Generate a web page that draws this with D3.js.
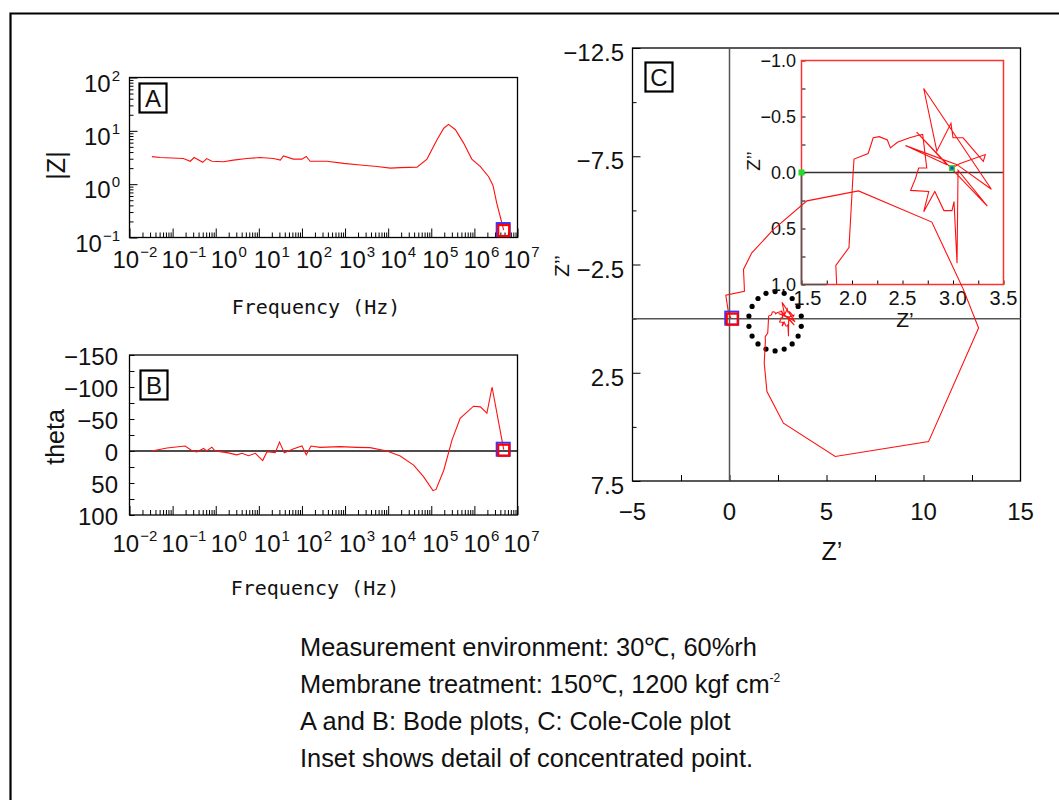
<!DOCTYPE html>
<html><head><meta charset="utf-8">
<script src="https://cdn.jsdelivr.net/npm/d3@7/dist/d3.min.js"></script>
<style>html,body{margin:0;padding:0;background:#fff;}svg{display:block;}</style>
</head><body>
<svg id="chart" width="1059" height="800"></svg>
<script>
// ---------------- data ----------------
const freqA = [0.0331,0.0513,0.178,0.257,0.316,0.501,0.617,0.813,1.51,2.57,5.25,10.7,21.9,31.6,37.2,63.1,100,126,155,380,933,2239,5495,11220,19055,46774,79433,134896,194984,251189,363078,562341,870964,1380384,2137962,2691535,3311311,3981072,4786301];
const magA  = [3.28,3.16,3.02,2.69,3.16,2.57,3.02,2.69,2.63,2.82,3.02,3.16,3.02,2.82,3.39,2.95,2.95,3.31,2.69,2.69,2.45,2.29,2.14,2.0,2.04,2.09,2.95,6.76,11.2,13.2,10.5,5.89,2.95,2.14,1.38,0.955,0.437,0.245,0.138];
const freqB = [0.0331,0.0741,0.195,0.282,0.363,0.525,0.617,0.813,0.977,1.82,3.09,4.07,5.75,8.32,12.3,15.5,24.0,30.2,38.9,64.6,100,126,162,263,776,1862,3802,9333,19055,38905,66069,109648,128825,194984,301995,467735,954993,1380384,1949845,2570396,4786301];
const thetaB = [0,-4.7,-7.8,-0.5,1.5,-4,0,-6,0,2.6,6,3.6,7.3,3.6,15,1,2.6,-14,2.6,-3.6,-7.8,6,-7.8,-5.7,-6.8,-5.7,-5.2,0,7.8,22,40,62,60,30,-17,-51,-70,-69,-59,-100,-2];
const coleRe = [2.99,3.07,3.32,3.30,3.10,3.00,2.98,2.84,2.71,3.38,3.04,2.53,2.94,2.64,3.34,3.05,3.04,3.01,2.99,2.91,2.82,2.71,2.76,2.58,2.63,2.66,2.74,2.70,2.65,2.57,2.45,2.38,2.35,2.27,2.21,2.16,2.02,2.01,1.99,1.97,1.84,1.85,1.79,1.93,2.78,5.45,10.26,12.84,12.06,10.43,6.65,3.99,2.27,1.15,0.72,0.76,0.77,-0.19,-0.05,0.09];
const coleIm = [-0.04,-0.08,-0.16,-0.10,-0.31,-0.31,-0.44,-0.19,-0.75,0.15,-0.07,-0.24,-0.07,-0.36,0.30,-0.02,0.81,0.26,0.34,0.34,0.17,0.35,0.17,0.16,0.05,-0.04,-0.04,-0.34,-0.33,-0.31,-0.27,-0.22,-0.29,-0.32,-0.31,-0.17,-0.12,0.02,0.35,0.67,0.83,1.04,2.05,3.37,4.83,6.37,5.68,0.43,-1.34,-4.46,-5.9,-5.44,-4.12,-3.04,-2.27,-1.53,-1.26,-1.08,-0.26,0.0];
const insetMarkersRe = [1.5, 2.99];
const insetMarkersIm = [0.0, -0.04];
const freqExponents = [-2,-1,0,1,2,3,4,5,6,7];
const magExponents = [-1,0,1,2];
const thetaTickLabels = [-150,-100,-50,0,50,100];
const coleXTickLabels = [-5,0,5,10,15];
const coleYTickLabels = [-12.5,-7.5,-2.5,2.5,7.5];
const insetXTickLabels = [1.5,2.0,2.5,3.0,3.5];
const insetYTickLabels = [-1.0,-0.5,0.0,0.5,1.0];
const panelLetters = ["A","B","C"];
const circleCenter = [2.35,0.12];
const circleRadius = 1.37;
const circleDotCount = 18;
const captionLines = ["Measurement environment: 30\u2103, 60%rh","Membrane treatment: 150\u2103, 1200 kgf cm","A and B: Bode plots, C: Cole-Cole plot","Inset shows detail of concentrated point."];
const captionSup = ["", "-2", "", ""];

// layout: horizontal shift of each frequency label's start relative to its tick (px)
const freqLabelShift = [-17,-11,-5,-5,-6,-6,-8,-9,-11,-14];
const insetXLabelShift = [6,1,0,0,0];

// ---------------- setup ----------------
const svg = d3.select("#chart");
const SANS = "'Liberation Sans', Arial, sans-serif";
const NARROW = "'Liberation Sans Narrow', 'Arial Narrow', 'Liberation Sans', sans-serif";
const MONO = "'DejaVu Sans Mono', monospace";
const RED = "#ff1010";
const mfmt = v => String(v).replace("-", "\u2212");
const fix1 = v => mfmt(v.toFixed(1));

svg.append("path").attr("d","M10.5,800V13.5H1059").attr("fill","none").attr("stroke","#000").attr("stroke-width",2.2);

const xA = d3.scaleLog().domain([1e-2,1e7]).range([129.5,517.5]);
const yA = d3.scaleLog().domain([1e-1,1e2]).range([237.5,77.5]);
const xB = d3.scaleLog().domain([1e-2,1e7]).range([129.5,517.5]);
const yB = d3.scaleLinear().domain([-150,100]).range([355,515]);
const xC = d3.scaleLinear().domain([-5,15]).range([632.5,1020.5]);
const yC = d3.scaleLinear().domain([-12.5,7.5]).range([48,481]);
const xI = d3.scaleLinear().domain([1.5,3.5]).range([801.5,1003.5]);
const yI = d3.scaleLinear().domain([-1,1]).range([60.5,284.5]);

function minorLog(lo, hi){ const t=[]; for(let e=lo;e<hi;e++) for(let m=2;m<10;m++) t.push(m*Math.pow(10,e)); return t; }
function ticks(axisFn, scale, values, size, tx, ty, color){
  const g = svg.append("g").attr("transform",`translate(${tx},${ty})`)
    .call(axisFn(scale).tickValues(values).tickSize(size).tickFormat(""));
  g.select(".domain").remove();
  g.selectAll("line").attr("stroke", color||"#000").attr("stroke-width",1);
  return g;
}
function frame(x0,y0,x1,y1,color,w){
  svg.append("rect").attr("x",x0).attr("y",y0).attr("width",x1-x0).attr("height",y1-y0)
    .attr("fill","none").attr("stroke",color||"#000").attr("stroke-width",w||1.3);
}
function powLabel(x,y,exp,anchor){
  const t = svg.append("text").attr("x",x).attr("y",y).attr("text-anchor",anchor)
    .attr("font-family",NARROW).attr("font-size",24).attr("fill","#111").text("10");
  t.append("tspan").attr("dy",-11).attr("dx",1).attr("font-size",15).text(mfmt(exp));
}
function numText(x,y,s,anchor,size){
  svg.append("text").attr("x",x).attr("y",y).attr("text-anchor",anchor)
    .attr("font-family",NARROW).attr("font-size",size||24).attr("fill","#111").text(s);
}
function letterBox(x,y,L){
  svg.append("rect").attr("x",x).attr("y",y).attr("width",27).attr("height",29)
    .attr("fill","#fff").attr("stroke","#000").attr("stroke-width",2.2);
  svg.append("text").attr("x",x+13.5).attr("y",y+23).attr("text-anchor","middle")
    .attr("font-family",SANS).attr("font-size",24).attr("fill","#111").text(L);
}
function endMarker(cx,cy){
  svg.append("rect").attr("x",cx-7).attr("y",cy-7).attr("width",13).attr("height",13)
    .attr("fill","none").attr("stroke","#3535ff").attr("stroke-width",2);
  svg.append("rect").attr("x",cx-5.5).attr("y",cy-5).attr("width",11).attr("height",11)
    .attr("fill","none").attr("stroke","#ff0000").attr("stroke-width",2.2);
}
const decades = freqExponents.map(e=>Math.pow(10,e));

// ---------------- Panel A ----------------
frame(129.5,77.5,517.5,237.5);
ticks(d3.axisBottom, xA, minorLog(-2,7), -5, 0, 237.5);
ticks(d3.axisBottom, xA, decades, -9, 0, 237.5);
ticks(d3.axisLeft, yA, minorLog(-1,2), -4, 129.5, 0);
ticks(d3.axisLeft, yA, magExponents.map(e=>Math.pow(10,e)), -8, 129.5, 0);
svg.append("path").datum(d3.zip(freqA,magA)).attr("fill","none").attr("stroke",RED).attr("stroke-width",1.1)
  .attr("d", d3.line().x(d=>xA(d[0])).y(d=>yA(d[1])));
endMarker(xA(freqA[freqA.length-1]), yA(magA[magA.length-1]));
freqExponents.forEach((e,i)=>powLabel(xA(Math.pow(10,e))+freqLabelShift[i], 268, e, "start"));
magExponents.forEach(e=>powLabel(120, yA(Math.pow(10,e))+14, e, "end"));
letterBox(139.5,83.5,panelLetters[0]);
svg.append("text").attr("transform","translate(65,165.5) rotate(-90)").attr("text-anchor","middle")
  .attr("font-family",SANS).attr("font-size",25).attr("fill","#111").text("|Z|");
svg.append("text").attr("x",316).attr("y",314).attr("text-anchor","middle")
  .attr("font-family",MONO).attr("font-size",20).attr("fill","#111").text("Frequency (Hz)");

// ---------------- Panel B ----------------
frame(129.5,355,517.5,515);
ticks(d3.axisBottom, xB, minorLog(-2,7), -5, 0, 515);
ticks(d3.axisBottom, xB, decades, -9, 0, 515);
ticks(d3.axisLeft, yB, d3.range(-150,101,25), -5, 129.5, 0);
svg.append("line").attr("x1",129.5).attr("x2",517.5).attr("y1",yB(0)).attr("y2",yB(0)).attr("stroke","#111").attr("stroke-width",1.4);
svg.append("path").datum(d3.zip(freqB,thetaB)).attr("fill","none").attr("stroke",RED).attr("stroke-width",1.1)
  .attr("d", d3.line().x(d=>xB(d[0])).y(d=>yB(d[1])));
endMarker(xB(freqB[freqB.length-1]), yB(thetaB[thetaB.length-1]));
freqExponents.forEach((e,i)=>powLabel(xB(Math.pow(10,e))+freqLabelShift[i], 552, e, "start"));
thetaTickLabels.forEach(v=>numText(118, yB(v)+10, mfmt(v), "end"));
letterBox(140.5,370.5,panelLetters[1]);
svg.append("text").attr("transform","translate(64,437) rotate(-90)").attr("text-anchor","middle")
  .attr("font-family",SANS).attr("font-size",25).attr("fill","#111").text("theta");
svg.append("text").attr("x",315).attr("y",595).attr("text-anchor","middle")
  .attr("font-family",MONO).attr("font-size",20).attr("fill","#111").text("Frequency (Hz)");

// ---------------- Panel C ----------------
frame(632.5,48,1020.5,481);
ticks(d3.axisBottom, xC, d3.range(-2.5,15,2.5), -6, 0, 481);
ticks(d3.axisLeft, yC, [-10,-5,0,5], -4, 632.5, 0);
ticks(d3.axisLeft, yC, coleYTickLabels, -8, 632.5, 0);
svg.append("line").attr("x1",xC(0)).attr("x2",xC(0)).attr("y1",48).attr("y2",481).attr("stroke","#555").attr("stroke-width",1.5);
svg.append("line").attr("x1",632.5).attr("x2",1020.5).attr("y1",yC(0)).attr("y2",yC(0)).attr("stroke","#555").attr("stroke-width",1.5);
coleXTickLabels.forEach(v=>numText(xC(v), 520, mfmt(v), "middle"));
coleYTickLabels.forEach(v=>numText(624, yC(v)+13, fix1(v), "end"));
letterBox(645.5,62.5,panelLetters[2]);
svg.append("text").attr("x",832).attr("y",560).attr("text-anchor","middle")
  .attr("font-family",SANS).attr("font-size",25).attr("fill","#111").text("Z\u2019");
svg.append("text").attr("transform","translate(569,266) rotate(-90)").attr("text-anchor","middle")
  .attr("font-family",SANS).attr("font-size",21).attr("fill","#111").text("Z\u2019\u2019");

// dotted circle annotation
const dots = d3.range(circleDotCount).map(i=>{const a=Math.PI/2 + i*2*Math.PI/circleDotCount; return [circleCenter[0]+circleRadius*Math.cos(a), circleCenter[1]-circleRadius*Math.sin(a)];});
svg.append("g").selectAll("circle").data(dots).join("circle")
  .attr("cx",d=>xC(d[0])).attr("cy",d=>yC(d[1])).attr("r",2.6).attr("fill","#000");

// ---------------- Inset ----------------
svg.append("defs").append("clipPath").attr("id","insetClip").append("rect")
  .attr("x",801.5).attr("y",60.5).attr("width",202).attr("height",224);
ticks(d3.axisBottom, xI, d3.range(1.5,3.51,0.25), -4, 0, 284.5);
ticks(d3.axisLeft, yI, d3.range(-1,1.01,0.25), -4, 801.5, 0);
svg.append("line").attr("x1",801.5).attr("x2",1003.5).attr("y1",yI(0)).attr("y2",yI(0)).attr("stroke","#333").attr("stroke-width",1.5);
svg.append("path").datum(d3.zip(coleRe,coleIm)).attr("clip-path","url(#insetClip)").attr("fill","none")
  .attr("stroke",RED).attr("stroke-width",1.1).attr("d", d3.line().x(d=>xI(d[0])).y(d=>yI(d[1])));
frame(801.5,60.5,1003.5,284.5,"#ff3030",1.5);
svg.append("line").attr("x1",801.5).attr("x2",801.5).attr("y1",yI(0)).attr("y2",284.5).attr("stroke","#555").attr("stroke-width",1.6);
svg.append("line").attr("x1",801.5).attr("x2",xI(1.75)).attr("y1",284.5).attr("y2",284.5).attr("stroke","#555").attr("stroke-width",1.6);
d3.zip(insetMarkersRe,insetMarkersIm).forEach((d,i)=>{
  svg.append("rect").attr("x",xI(d[0])-3).attr("y",yI(d[1])-3).attr("width",6).attr("height",6).attr("fill","#22dd22");
  if(i>0) svg.append("rect").attr("x",xI(d[0])-1.5).attr("y",yI(d[1])-1.5).attr("width",3).attr("height",3).attr("fill","#2233ff");
});
insetXTickLabels.forEach((v,i)=>numText(xI(v)+insetXLabelShift[i], 305, fix1(v), "middle", 20));
insetYTickLabels.forEach(v=>numText(796, yI(v)+6, fix1(v), "end", 18));
svg.append("text").attr("x",905).attr("y",326.5).attr("text-anchor","middle")
  .attr("font-family",SANS).attr("font-size",21).attr("fill","#111").text("Z\u2019");
svg.append("text").attr("transform","translate(760,161) rotate(-90)").attr("text-anchor","middle")
  .attr("font-family",SANS).attr("font-size",19).attr("fill","#111").text("Z\u2019\u2019");

// main Cole-Cole trace (drawn on top)
svg.append("path").datum(d3.zip(coleRe,coleIm)).attr("fill","none").attr("stroke",RED).attr("stroke-width",1.1)
  .attr("d", d3.line().x(d=>xC(d[0])).y(d=>yC(d[1])));
endMarker(xC(coleRe[coleRe.length-1])+1, yC(coleIm[coleIm.length-1]));

// ---------------- caption ----------------
captionLines.forEach((s,i)=>{
  const t = svg.append("text").attr("x",300).attr("y",656+i*37).attr("font-family",SANS)
    .attr("font-size",25.4).attr("fill","#111").text(s);
  if(captionSup[i]) t.append("tspan").attr("dy",-11).attr("font-size",12).text(captionSup[i]);
});
</script>
</body></html>
